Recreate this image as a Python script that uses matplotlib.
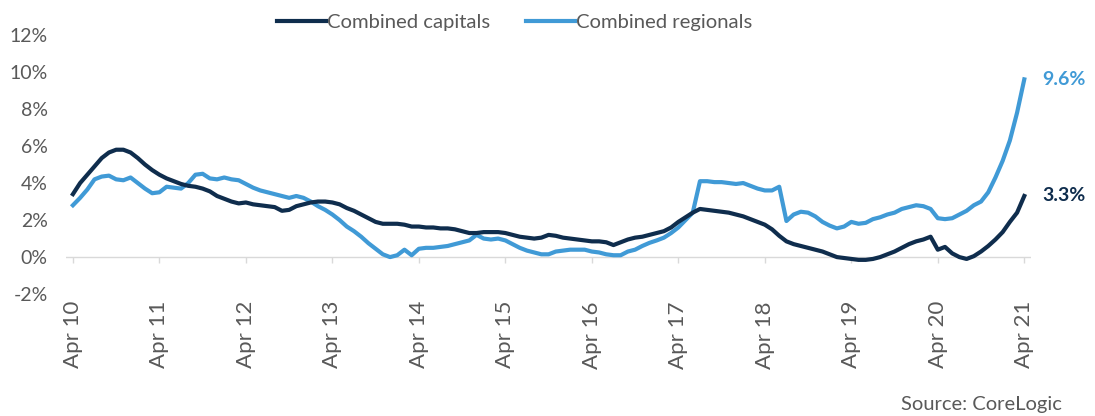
import matplotlib
matplotlib.use("Agg")
import matplotlib.pyplot as plt
import numpy as np

# monthly annual growth, Apr 2010 .. Apr 2021 (%)
capitals = [
    3.4, 4.0, 4.45, 4.9, 5.35, 5.65, 5.8, 5.8, 5.65, 5.35, 5.0, 4.7,
    4.45, 4.25, 4.1, 3.95, 3.85, 3.8, 3.7, 3.55, 3.3, 3.15, 3.0, 2.9,
    2.95, 2.85, 2.8, 2.75, 2.7, 2.5, 2.55, 2.75, 2.85, 2.95, 3.0, 3.0,
    2.95, 2.85, 2.65, 2.5, 2.3, 2.1, 1.9, 1.8, 1.8, 1.8, 1.75, 1.65,
    1.65, 1.6, 1.6, 1.55, 1.55, 1.5, 1.4, 1.3, 1.3, 1.35, 1.35, 1.35,
    1.3, 1.2, 1.1, 1.05, 1.0, 1.05, 1.2, 1.15, 1.05, 1.0, 0.95, 0.9,
    0.85, 0.85, 0.8, 0.65, 0.8, 0.95, 1.05, 1.1, 1.2, 1.3, 1.4, 1.6,
    1.9, 2.15, 2.4, 2.6, 2.55, 2.5, 2.45, 2.4, 2.3, 2.2, 2.05, 1.9,
    1.75, 1.5, 1.15, 0.85, 0.7, 0.6, 0.5, 0.4, 0.3, 0.15, 0.0, -0.05,
    -0.1, -0.15, -0.15, -0.1, 0.0, 0.15, 0.3, 0.5, 0.7, 0.85, 0.95, 1.1,
    0.4, 0.55, 0.2, 0.0, -0.1, 0.05, 0.3, 0.6, 0.95, 1.35, 1.9, 2.4, 3.3,
]
regionals = [
    2.8, 3.2, 3.65, 4.2, 4.35, 4.4, 4.2, 4.15, 4.3, 4.0, 3.7, 3.45,
    3.5, 3.8, 3.75, 3.7, 4.0, 4.45, 4.5, 4.25, 4.2, 4.3, 4.2, 4.15,
    3.95, 3.75, 3.6, 3.5, 3.4, 3.3, 3.2, 3.3, 3.2, 3.0, 2.75, 2.55,
    2.3, 2.0, 1.65, 1.4, 1.1, 0.75, 0.45, 0.15, 0.0, 0.1, 0.4, 0.1,
    0.45, 0.5, 0.5, 0.55, 0.6, 0.7, 0.8, 0.9, 1.2, 1.0, 0.95, 1.0,
    0.9, 0.7, 0.5, 0.35, 0.25, 0.15, 0.15, 0.3, 0.35, 0.4, 0.4, 0.4,
    0.3, 0.25, 0.15, 0.1, 0.1, 0.3, 0.4, 0.6, 0.77, 0.9, 1.05, 1.3,
    1.6, 2.0, 2.4, 4.1, 4.1, 4.05, 4.05, 4.0, 3.95, 4.0, 3.85, 3.7,
    3.6, 3.6, 3.8, 1.95, 2.3, 2.45, 2.4, 2.2, 1.9, 1.7, 1.55, 1.65,
    1.9, 1.8, 1.85, 2.05, 2.15, 2.3, 2.4, 2.6, 2.7, 2.8, 2.75, 2.6,
    2.1, 2.05, 2.1, 2.3, 2.5, 2.8, 3.0, 3.5, 4.3, 5.2, 6.3, 7.8, 9.6,
]
tick_labels = ["Apr 10", "Apr 11", "Apr 12", "Apr 13", "Apr 14", "Apr 15",
               "Apr 16", "Apr 17", "Apr 18", "Apr 19", "Apr 20", "Apr 21"]
yticks = [-2, 0, 2, 4, 6, 8, 10, 12]

dark = "#0f2d4d"
light = "#409ad6"
grey = "#595959"

plt.rcParams["font.family"] = ["Lato", "DejaVu Sans"]

months = np.arange(len(capitals))

fig = plt.figure(figsize=(10.95, 4.16), dpi=100)
ax = fig.add_axes([0.060, 0.293, 0.882, 0.623])

ax.plot(months, capitals, color=dark, lw=3, label="Combined capitals", zorder=3)
ax.plot(months, regionals, color=light, lw=3, label="Combined regionals", zorder=2)

ax.set_xlim(-1, 133)
ax.set_ylim(-2, 12)

# zero axis line with small ticks, like the Excel chart
ax.axhline(0, color="#d9d9d9", lw=1, zorder=1)
tick_pos = months[::12]
ax.vlines(tick_pos, -0.3, 0, color="#d9d9d9", lw=1, zorder=1)

ax.set_xticks(tick_pos)
ax.set_xticklabels(tick_labels, rotation=90, color=grey, fontsize=16)
ax.set_yticks(yticks)
ax.set_yticklabels([f"{v}%" for v in yticks], color=grey, fontsize=14)
ax.tick_params(axis="both", length=0)
ax.tick_params(axis="x", pad=5)
ax.tick_params(axis="y", pad=13)
for s in ax.spines.values():
    s.set_visible(False)

ax.text(134.5, regionals[-1], f"{regionals[-1]}%", color=light, fontsize=14,
        fontweight="bold", va="center", ha="left")
ax.text(134.5, capitals[-1], f"{capitals[-1]}%", color=dark, fontsize=14,
        fontweight="bold", va="center", ha="left")

leg = fig.legend(loc="center", bbox_to_anchor=(0.47, 0.945), ncol=2, frameon=False,
                 fontsize=14.6, handlelength=2.4, handletextpad=0.05, columnspacing=1.8)
for t in leg.get_texts():
    t.set_color(grey)

fig.text(0.970, 0.027, "Source: CoreLogic", ha="right", va="center", color=grey, fontsize=14.5)

fig.savefig("out.png", dpi=100)
